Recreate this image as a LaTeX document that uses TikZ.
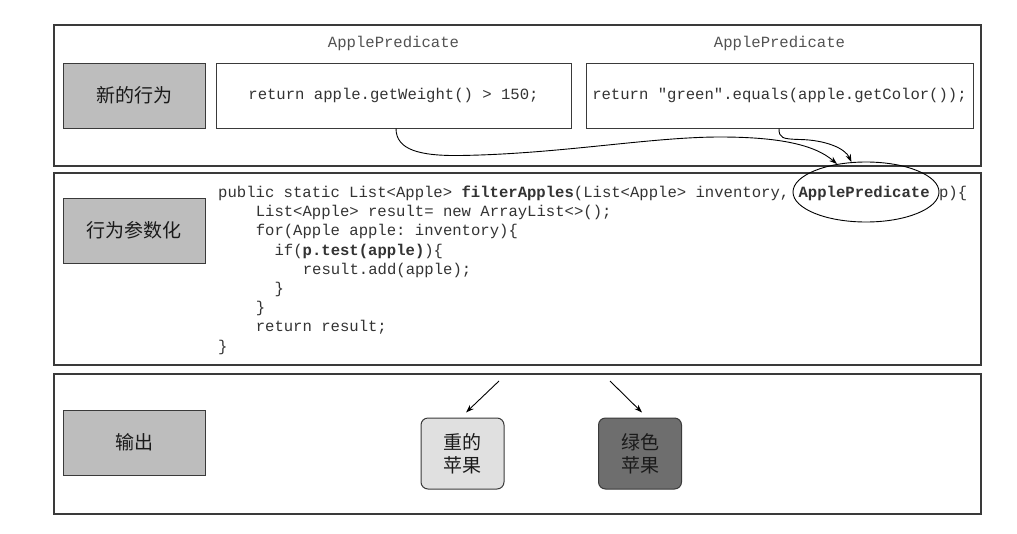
\documentclass[tikz,border=0pt]{standalone}
\usepackage{fontspec}
\setmonofont{Liberation Mono}
\newfontfamily\cjk{Noto Sans CJK SC}
\usetikzlibrary{shapes.geometric,arrows.meta}
\definecolor{panelline}{HTML}{3A3A3A}
\definecolor{labelfill}{HTML}{BDBDBD}
\definecolor{lightfill}{HTML}{E0E0E0}
\definecolor{darkfill}{HTML}{6E6E6E}
\definecolor{codecol}{HTML}{333333}
\definecolor{cjkcol}{HTML}{1A1A1A}
\tikzset{
  panel/.style={draw=panelline, line width=1.1pt, minimum width=927pt, inner sep=0pt},
  labelbox/.style={draw=panelline, fill=labelfill, line width=1pt, minimum width=142pt, minimum height=65pt, inner sep=0pt, font=\cjk\fontsize{19}{22}\selectfont, text=cjkcol},
  codebox/.style={draw=panelline, fill=white, line width=1pt, minimum height=65pt, inner sep=0pt, font=\ttfamily\fontsize{15.6}{19}\selectfont, text=codecol},
  codeline/.style={anchor=base west, inner sep=0pt, font=\ttfamily\fontsize{15.6}{19}\selectfont, text=codecol},
  typelabel/.style={inner sep=0pt, font=\ttfamily\fontsize{15.6}{19}\selectfont, text=codecol!85!white},
  resultbox/.style={draw=panelline, line width=1pt, rounded corners=7pt, minimum width=83pt, minimum height=71pt, inner sep=0pt, align=center, font=\cjk\fontsize{19}{23}\selectfont, text=cjkcol},
  arr/.style={draw=black, line width=0.9pt, -{Stealth[length=8pt,width=5.5pt]}}
}
\begin{document}
\begin{tikzpicture}[x=1pt,y=-1pt]
\useasboundingbox (0,0) rectangle (1017,533);
\fill[white] (0,0) rectangle (1017,533);

% panels
\node[panel, minimum height=141pt] (p1) at (517.5,95.5) {};
\node[panel, minimum height=192pt] (p2) at (517.5,269) {};
\node[panel, minimum height=140pt] (p3) at (517.5,444) {};

% left labels
\node[labelbox] (l1) at (134,95.5) {新的行为};
\node[labelbox] (l2) at (134,230.5) {行为参数化};
\node[labelbox] (l3) at (134,442.5) {输出};

% top code boxes
\node[typelabel] (t1) at (393.5,43) {ApplePredicate};
\node[typelabel] (t2) at (779.5,43) {ApplePredicate};
\node[codebox, minimum width=355pt] (codeA) at (393.5,95.5) {return apple.getWeight() > 150;};
\node[codebox, minimum width=387pt] (codeB) at (779.5,95.5) {return "green".equals(apple.getColor());};

% middle code
\node[codeline] (c1) at (218,197.5) {public static List<Apple> \textbf{filterApples}(List<Apple> inventory, \textbf{ApplePredicate} p)\{};
\node[codeline] (c2) at (255.6,216.7) {List<Apple> result= new ArrayList<>();};
\node[codeline] (c3) at (255.6,235.9) {for(Apple apple: inventory)\{};
\node[codeline] (c4) at (274.4,255.1) {if(\textbf{p.test(apple)})\{};
\node[codeline] (c5) at (302.6,274.3) {result.add(apple);};
\node[codeline] (c6) at (274.4,293.5) {\}};
\node[codeline] (c7) at (255.6,312.7) {\}};
\node[codeline] (c8) at (255.6,331.9) {return result;};
\node[codeline] (c9) at (218,351.1) {\}};

\node[ellipse, draw=black, line width=0.9pt, minimum width=146pt, minimum height=60pt, inner sep=0pt] (ell) at (866,192) {};

% curved arrows
\draw[arr] ([xshift=2.5pt]codeA.south) .. controls (396,150) and (420,156) .. (460,155.5)
  .. controls (560,154) and (650,137) .. (720,137)
  .. controls (780,137) and (815,145) .. (ell.136);
\draw[arr] ([xshift=-0.5pt]codeB.south) .. controls (779,138) and (782,139) .. (800,139.5)
  .. controls (825,140) and (845,148) .. (ell.116);

% bottom result boxes
\node[resultbox, fill=lightfill] (lbox) at (462.5,453.5) {重的\\苹果};
\node[resultbox, fill=darkfill] (dbox) at (640,453.5) {绿色\\苹果};
\coordinate (s1) at (499,381);
\coordinate (s2) at (610,381);
\draw[arr] (s1) -- ([xshift=3.5pt,yshift=5pt]lbox.north);
\draw[arr] (s2) -- ([xshift=2pt,yshift=5pt]dbox.north);
\end{tikzpicture}
\end{document}
